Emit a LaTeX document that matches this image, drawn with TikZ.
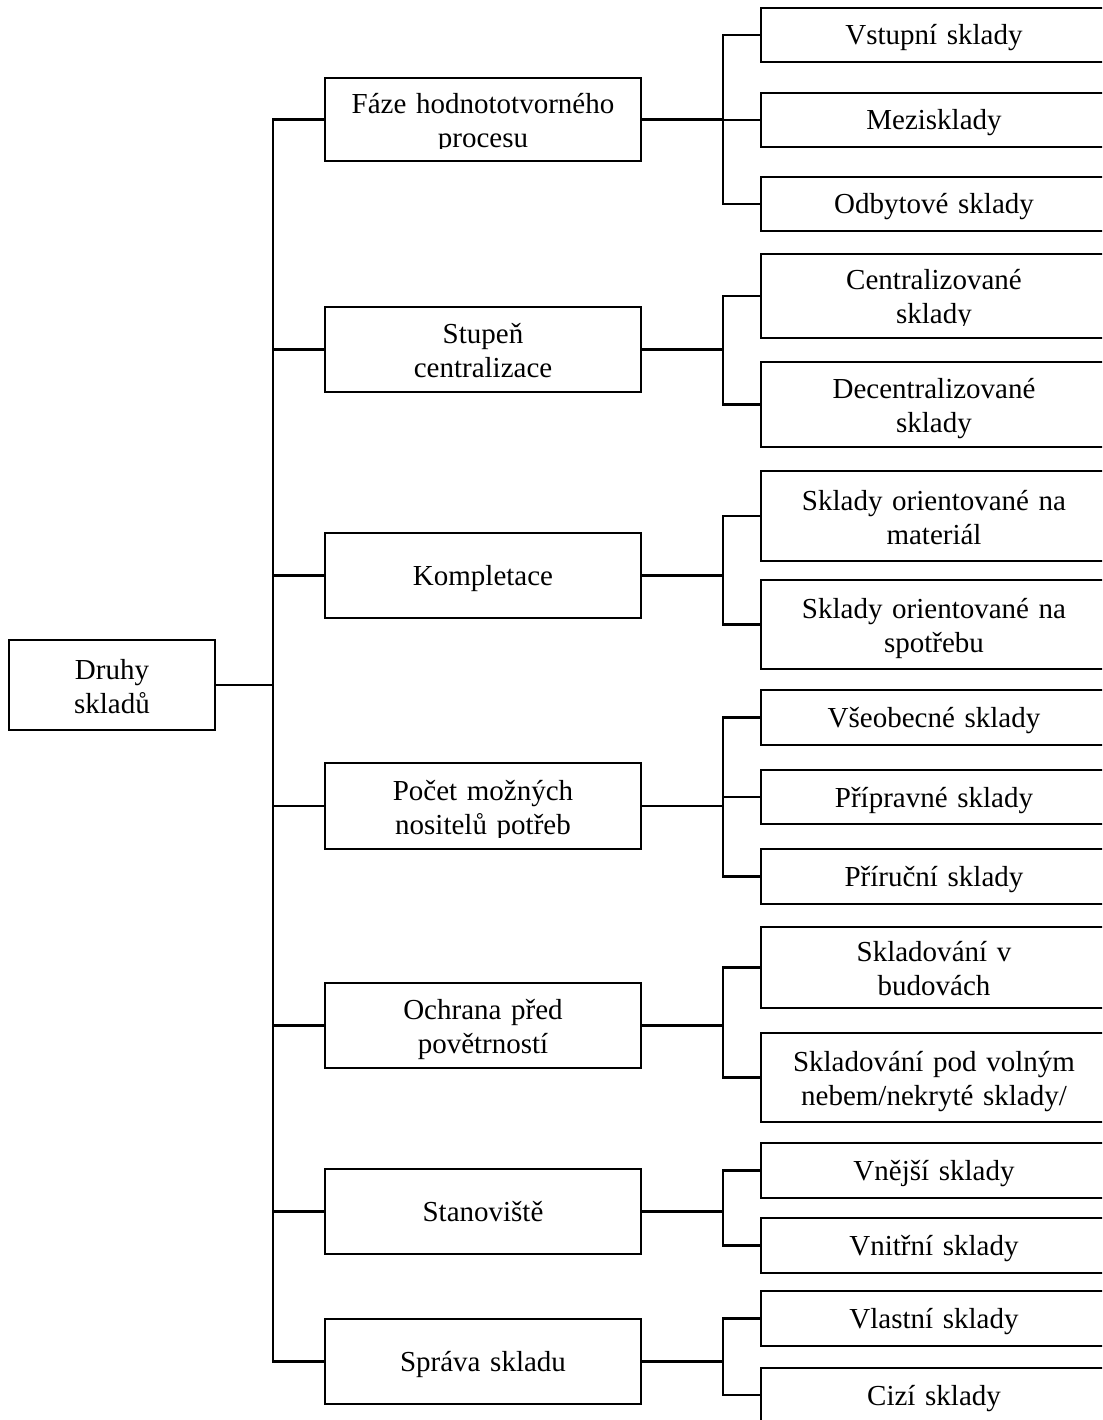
\documentclass[tikz,border=0pt]{standalone}
\usepackage{fontspec}
\setmainfont{Liberation Serif}
\begin{document}
\begin{tikzpicture}[x=1pt,y=-1pt,
  every node/.style={font=\fontsize{29}{34}\selectfont},
  frame/.style={draw, line width=2.1pt, rectangle, inner sep=0pt, outer sep=0pt},
  txt/.style={inner sep=0pt, outer sep=0pt, align=center, text height=26pt, text depth=6pt},
  two/.style={text depth=38pt},
  rootbox/.style={frame, txt, minimum width=206pt, text width=190pt},
  midbox/.style={frame, txt, minimum width=316pt, text width=300pt},
  leafbox/.style={frame, txt, minimum width=346pt, text width=330pt},
  conn/.style={line width=2.1pt}
]
\useasboundingbox (0,0) rectangle (1102,1420);
\clip (0,0) rectangle (1102,1420);

% root
\node[rootbox, two, minimum height=90pt] (root) at (112,685) {Druhy\\skladů};

% middle level
\node[frame, minimum width=316pt, minimum height=83pt] (m1) at (483,119.5) {};
\begin{scope}
  \clip ([yshift=12pt]m1.south west) rectangle (m1.north east);
  \node[txt, two, text width=300pt] (m1t) at (m1.center) {Fáze hodnototvorného\\procesu};
\end{scope}
\node[midbox, two, minimum height=85pt] (m2) at (483,349.5) {Stupeň\\centralizace};
\node[midbox, minimum height=85pt] (m3) at (483,575.5) {Kompletace};
\node[frame, minimum width=316pt, minimum height=86pt] (m4) at (483,806) {};
\begin{scope}
  \clip ([yshift=12pt]m4.south west) rectangle (m4.north east);
  \node[txt, two, text width=300pt] (m4t) at (m4.center) {Počet možných\\nositelů potřeb};
\end{scope}
\node[midbox, two, minimum height=85pt] (m5) at (483,1025.5) {Ochrana před\\povětrností};
\node[midbox, minimum height=85pt] (m6) at (483,1211.5) {Stanoviště};
\node[midbox, minimum height=85pt] (m7) at (483,1361.5) {Správa skladu};

% leaves
\node[leafbox, minimum height=54pt] (c11) at (934,35) {Vstupní sklady};
\node[leafbox, minimum height=54pt] (c12) at (934,120) {Mezisklady};
\node[leafbox, minimum height=54pt] (c13) at (934,204) {Odbytové sklady};

\node[frame, minimum width=346pt, minimum height=84pt] (c21) at (934,296) {};
\begin{scope}
  \clip ([yshift=13pt]c21.south west) rectangle (c21.north east);
  \node[txt, two, text width=330pt] (c21t) at (c21.center) {Centralizované\\sklady};
\end{scope}
\node[leafbox, two, minimum height=85pt] (c22) at (934,404.5) {Decentralizované\\sklady};

\node[leafbox, two, minimum height=90pt] (c31) at (934,516) {Sklady orientované na\\materiál};
\node[leafbox, two, minimum height=89pt] (c32) at (934,624.5) {Sklady orientované na\\spotřebu};

\node[leafbox, minimum height=55pt] (c41) at (934,717.5) {Všeobecné sklady};
\node[leafbox, minimum height=54pt] (c42) at (934,797) {Přípravné sklady};
\node[leafbox, minimum height=55pt] (c43) at (934,876.5) {Příruční sklady};

\node[leafbox, two, minimum height=81pt] (c51) at (934,967.5) {Skladování v\\budovách};
\node[leafbox, two, minimum height=89pt] (c52) at (934,1077.5) {Skladování pod volným\\nebem/nekryté sklady/};

\node[leafbox, minimum height=55pt] (c61) at (934,1170.5) {Vnější sklady};
\node[leafbox, minimum height=55pt] (c62) at (934,1245.5) {Vnitřní sklady};

\node[leafbox, minimum height=55pt] (c71) at (934,1318.5) {Vlastní sklady};
\node[leafbox, minimum height=54pt] (c72) at (934,1395) {Cizí sklady};

% connectors: root to middle
\coordinate (trunk) at (273,685);
\draw[conn] (root.east) -- (trunk);
\foreach \m in {m1,m2,m3,m4,m5,m6,m7}
  \draw[conn] (trunk) |- (\m.west);

% connectors: middle to leaves
\coordinate (j1) at (723,119.5);
\coordinate (j2) at (723,349.5);
\coordinate (j3) at (723,575.5);
\coordinate (j4) at (723,806);
\coordinate (j5) at (723,1025.5);
\coordinate (j6) at (723,1211.5);
\coordinate (j7) at (723,1361.5);
\foreach \m/\j in {m1/j1,m2/j2,m3/j3,m4/j4,m5/j5,m6/j6,m7/j7}
  \draw[conn] (\m.east) -- (\j);
\foreach \j/\c in {j1/c11,j1/c12,j1/c13,j2/c21,j2/c22,j3/c31,j3/c32,
                   j4/c41,j4/c42,j4/c43,j5/c51,j5/c52,j6/c61,j6/c62,j7/c71,j7/c72}
  \draw[conn] (\j) |- (\c.west);
\end{tikzpicture}
\end{document}
